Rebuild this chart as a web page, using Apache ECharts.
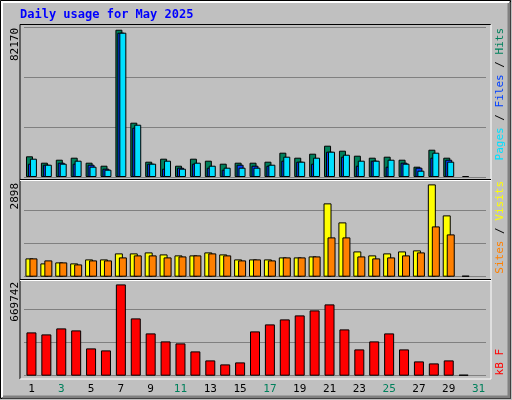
<!DOCTYPE html>
<html><head><meta charset="utf-8">
<script src="https://cdn.jsdelivr.net/npm/echarts@6/dist/echarts.min.js"></script>
<style>html,body{margin:0;padding:0;background:#fff}#c{width:512px;height:400px}</style>
</head><body><div id="c"></div>
<script>
const days = ['1','2','3','4','5','6','7','8','9','10','11','12','13','14','15','16','17','18','19','20','21','22','23','24','25','26','27','28','29','30','31'];
const weekend = ['3','4','10','11','17','18','24','25','31'];
const hits  = [11550,7980,9650,10770,7980,6300,82170,30300,8540,10210,6300,10210,9100,7420,7980,7980,8540,13560,10770,13000,17470,14680,11890,10770,11330,9650,5750,15230,10770,null,null];
const files = [7420,6860,7980,7420,6860,4630,80520,27510,7420,4630,5190,7420,5190,4070,6860,6300,6300,9100,8540,7420,14120,11330,6300,9100,5750,7980,5190,10770,9650,null,null];
const pages = [10210,6860,7420,9100,5750,4070,80520,29180,7420,9100,4630,7980,6300,5190,5190,5190,6860,11330,8540,10770,14120,12440,9100,9100,9650,7420,3520,13560,8540,0,null];
const visits= [575,418,449,418,543,543,732,732,763,700,669,669,763,700,543,543,543,606,606,637,2302,1705,794,669,732,794,826,2898,1925,null,null];
const sites = [575,512,449,386,512,512,606,669,669,606,637,669,732,669,512,543,512,606,606,637,1234,1234,637,575,606,669,763,1579,1328,0,null];
const kbytes= [317650,302980,347000,332320,200270,185600,669742,420350,310310,251620,236950,178260,112240,82900,97570,324980,376340,413020,442360,479040,523060,339660,192940,251620,310310,192940,104900,90230,112240,0,null];
const maxLabels = ['82170','2898','669742'];

const F = 'DejaVu Sans Mono';
const chart = echarts.init(document.getElementById('c'));
const grids = [
  {left:24, width:462, top:27, height:150},
  {left:24, width:462, top:177.7, height:99},
  {left:24, width:462, top:276.7, height:99}
];
const split = {show:true, lineStyle:{color:'#808080', width:1}};
function xa(i){return {type:'category', gridIndex:i, data:days, boundaryGap:true,
  axisLine:{show:false}, axisTick:{show:false}, splitLine:{show:false},
  axisLabel: i===2 ? {show:true, margin:8, fontFamily:F, fontSize:11,
     color:(v)=>weekend.includes(v)?'#00805c':'#000'} : {show:false}};}
function ya(i,max){return {type:'value', gridIndex:i, min:0, max:max, interval:max/3,
  axisLabel:{show:false}, axisLine:{show:false}, axisTick:{show:false}, splitLine:split};}
const bs = {borderColor:'#000', borderWidth:1};
function bar(name,data,g,color,w,gap,minH){return {name, type:'bar', data, xAxisIndex:g, yAxisIndex:g,
  barWidth:w, barGap:gap, barMinHeight:minH||0, itemStyle:Object.assign({color},bs), animation:false, silent:true};}
function vtext(x,y,text,rich){return {type:'text', x, y, rotation:Math.PI/2,
  style:{text, align:'right', verticalAlign:'middle', font:'11px '+F, fill:'#000', rich}};}
chart.setOption({
  backgroundColor:'#c0c0c0',
  animation:false,
  grid:grids,
  xAxis:[xa(0),xa(1),xa(2)],
  yAxis:[ya(0,83700),ya(1,3108),ya(2,726260)],
  series:[
    bar('Hits',hits,0,'#00805c',7,'-72%'),
    bar('Files',files,0,'#0040ff',7,'-72%'),
    bar('Pages',pages,0,'#00e0ff',7,'-72%',1),
    bar('Visits',visits,1,'#ffff00',8,'-50%'),
    bar('Sites',sites,1,'#ff8000',8,'-50%',1),
    bar('KBytes',kbytes,2,'#ff0000',10,'0%',1)
  ],
  graphic:[
    {type:'rect', shape:{x:0.5,y:0.5,width:510,height:398}, style:{fill:null, stroke:'#000', lineWidth:1}, z:-1},
    {type:'polyline', shape:{points:[[2,397],[509,397],[509,2]]}, style:{stroke:'#808080', lineWidth:3, fill:null}},
    {type:'polyline', shape:{points:[[2,397],[2,2],[509,2]]}, style:{stroke:'#fff', lineWidth:2, fill:null}},
    {type:'text', x:20, y:15, style:{text:'Daily usage for May 2025', font:'bold 12px '+F, fill:'#0000ff', verticalAlign:'middle'}},
    {type:'polyline', shape:{points:[[20,379],[20,24.5],[491,24.5]]}, style:{stroke:'#000', lineWidth:1, fill:null}},
    {type:'polyline', shape:{points:[[20,379],[491,379],[491,24.5]]}, style:{stroke:'#fff', lineWidth:1, fill:null}},
    {type:'line', shape:{x1:20,y1:179.5,x2:491,y2:179.5}, style:{stroke:'#000', lineWidth:1}},
    {type:'line', shape:{x1:20,y1:180.5,x2:491,y2:180.5}, style:{stroke:'#fff', lineWidth:1}},
    {type:'line', shape:{x1:20,y1:279.5,x2:491,y2:279.5}, style:{stroke:'#000', lineWidth:1}},
    {type:'line', shape:{x1:20,y1:280.5,x2:491,y2:280.5}, style:{stroke:'#fff', lineWidth:1}},
    vtext(15,28,maxLabels[0]),
    vtext(15,183,maxLabels[1]),
    vtext(15,282,maxLabels[2]),
    vtext(500,28,'{p|Pages}{s| / }{f|Files}{s| / }{h|Hits}',
      {p:{fill:'#00e0ff',font:'11px '+F},s:{fill:'#000',font:'11px '+F},f:{fill:'#0040ff',font:'11px '+F},h:{fill:'#00805c',font:'11px '+F}}),
    vtext(500,181,'{a|Sites}{s| / }{b|Visits}',
      {a:{fill:'#ff8000',font:'11px '+F},s:{fill:'#000',font:'11px '+F},b:{fill:'#ffff00',font:'11px '+F}}),
    vtext(500,349,'{k|kB F}',{k:{fill:'#ff0000',font:'11px '+F}})
  ]
});
</script></body></html>
